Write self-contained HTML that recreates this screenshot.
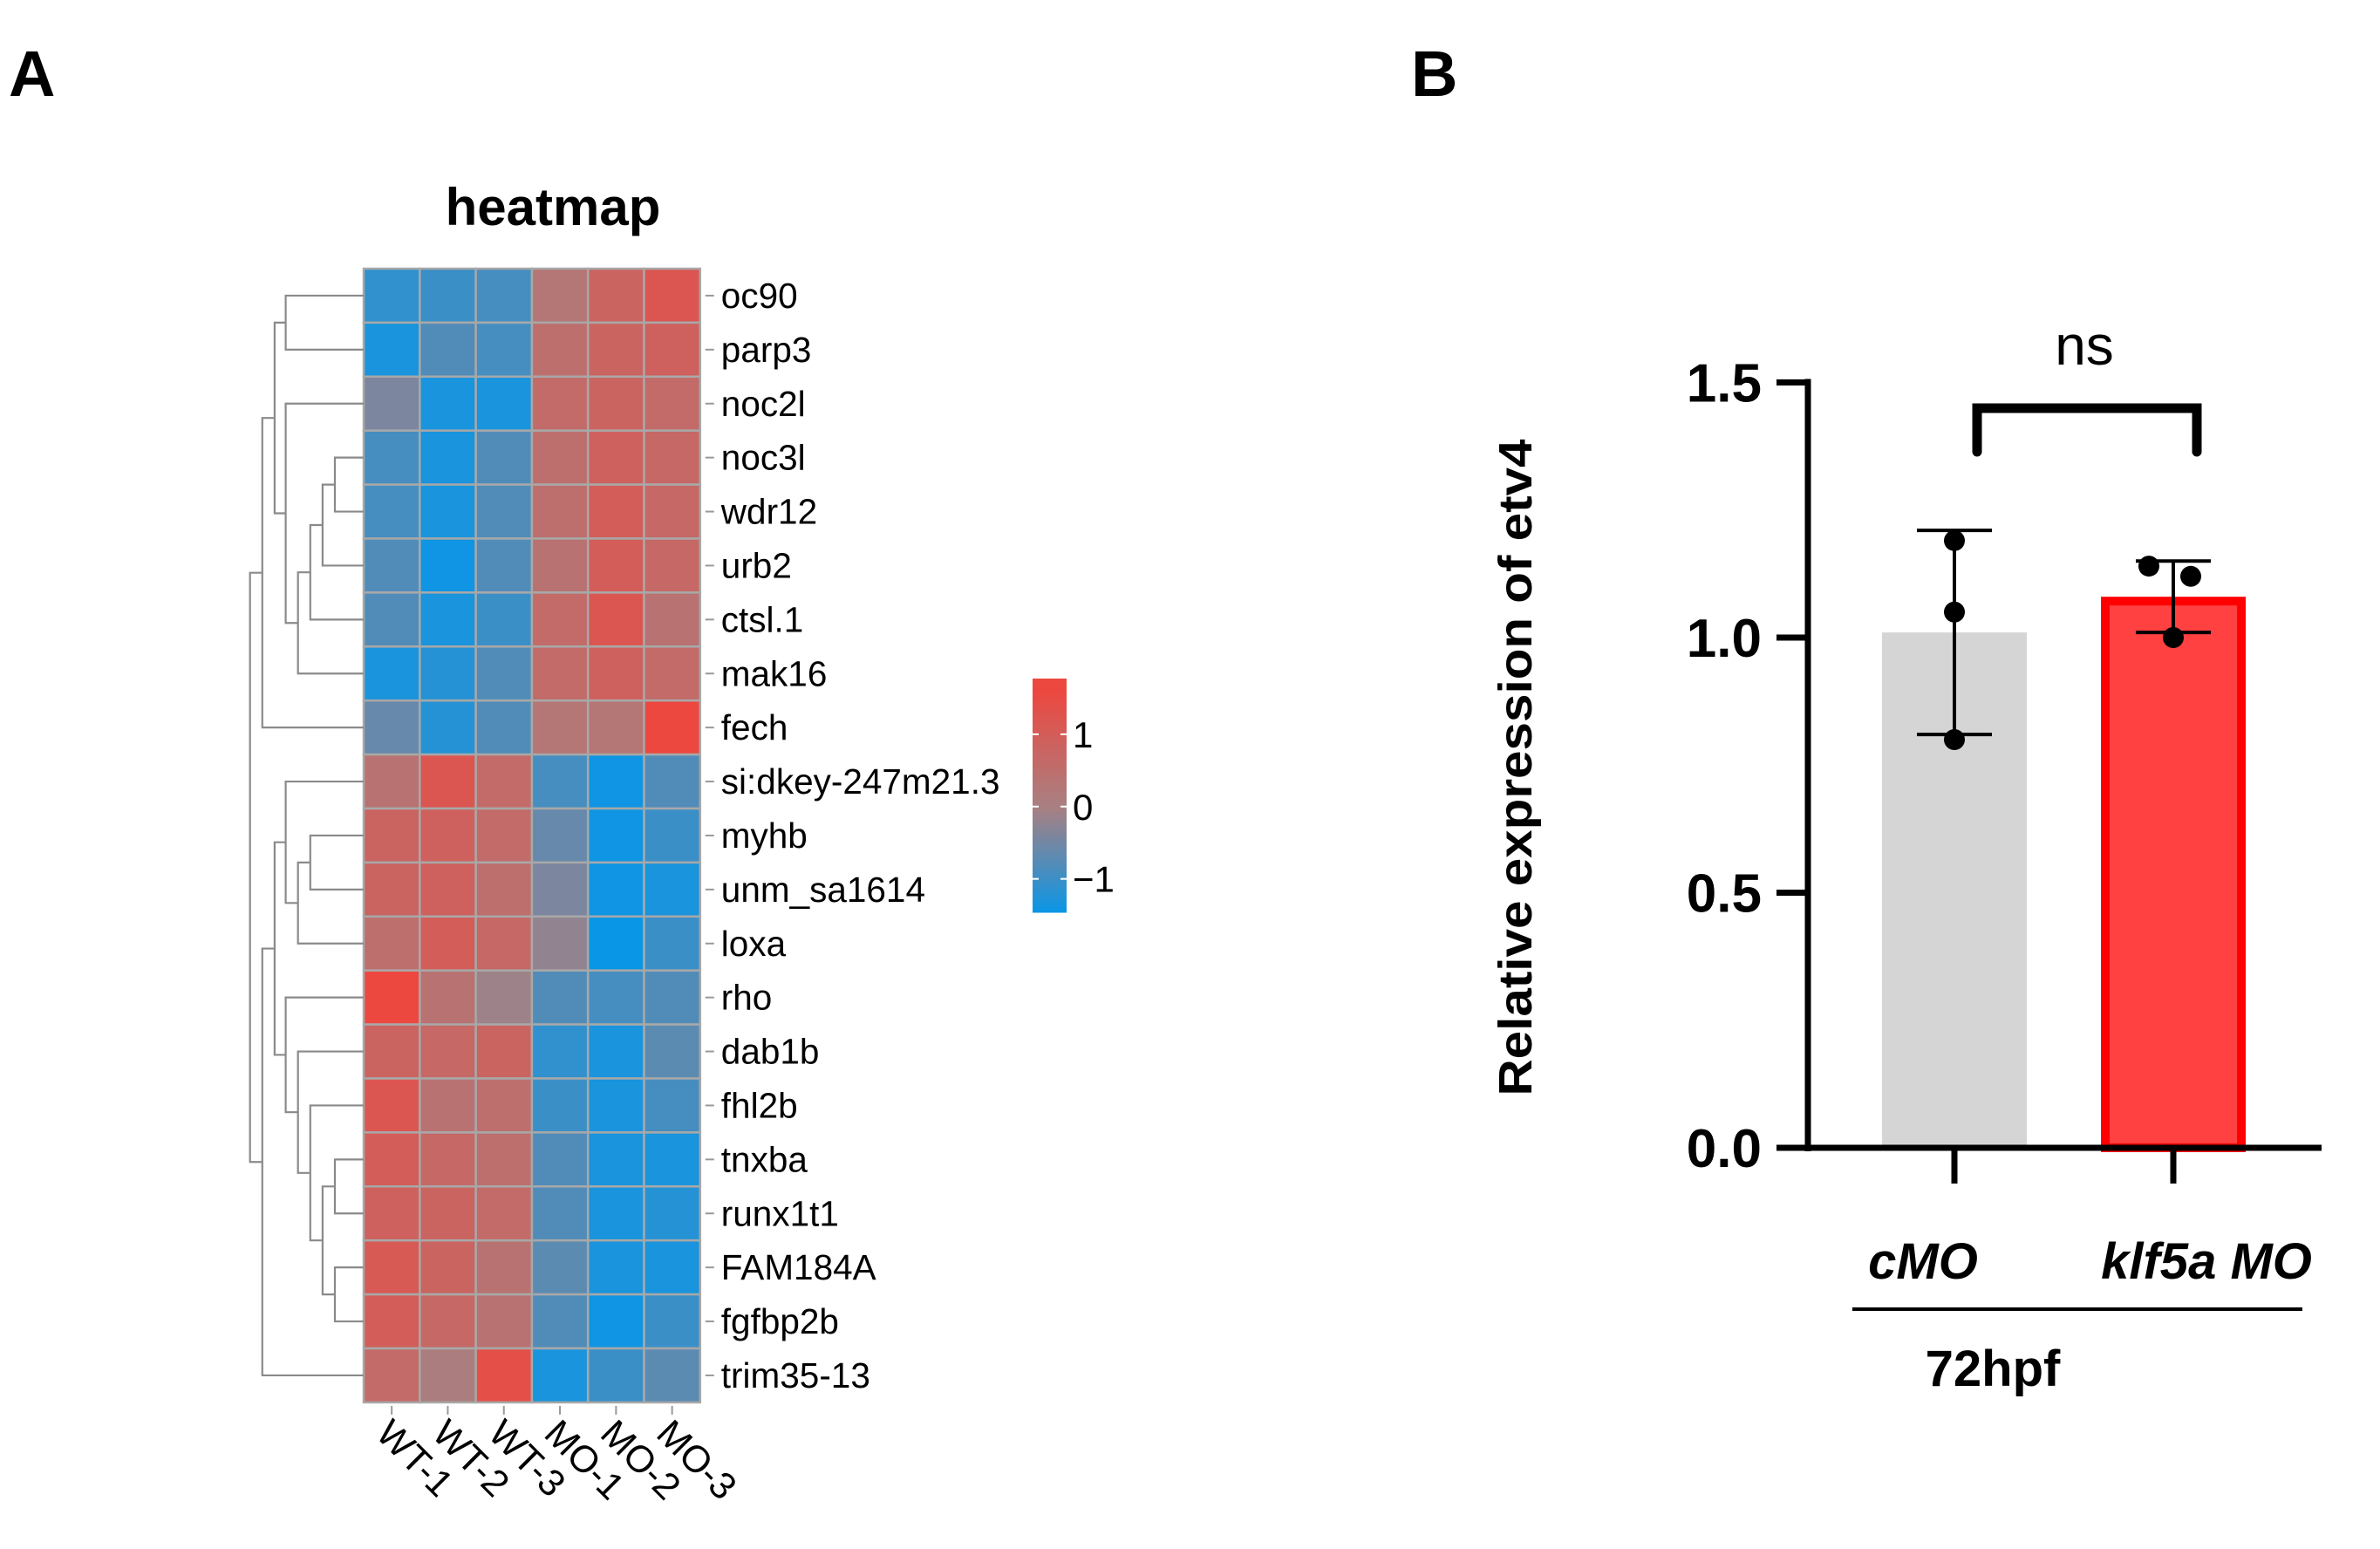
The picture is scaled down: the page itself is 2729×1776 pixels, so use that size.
<!DOCTYPE html>
<html><head><meta charset="utf-8"><style>
html,body{margin:0;padding:0;background:#fff;}
svg{display:block;font-family:"Liberation Sans",Arial,sans-serif;}
</style></head><body>
<svg id="fig" width="2729" height="1776" viewBox="0 0 2729 1776" xmlns="http://www.w3.org/2000/svg">
<text x="10" y="110" font-size="74" font-weight="bold">A</text>
<text x="1618" y="110" font-size="74" font-weight="bold">B</text>
<text x="634" y="258" font-size="60" font-weight="bold" text-anchor="middle">heatmap</text>
<g id="heat"></g>
<g id="dendro"></g>
<g id="cbar"></g>
<g id="bar"></g>
</svg>
<script>
const NS="http://www.w3.org/2000/svg";
const genes=["oc90","parp3","noc2l","noc3l","wdr12","urb2","ctsl.1","mak16","fech","si:dkey-247m21.3","myhb","unm_sa1614","loxa","rho","dab1b","fhl2b","tnxba","runx1t1","FAM184A","fgfbp2b","trim35-13"];
const samples=["WT-1","WT-2","WT-3","MO-1","MO-2","MO-3"];
const zvals=[
[-1.1,-1.0,-0.9,0.3,0.8,1.2],
[-1.3,-0.8,-0.9,0.5,0.8,0.9],
[-0.4,-1.3,-1.3,0.6,0.8,0.6],
[-0.9,-1.3,-0.8,0.5,0.9,0.7],
[-0.9,-1.3,-0.8,0.5,1.0,0.7],
[-0.8,-1.4,-0.8,0.4,1.0,0.7],
[-0.8,-1.3,-1.0,0.6,1.2,0.4],
[-1.3,-1.2,-0.8,0.6,0.9,0.6],
[-0.6,-1.2,-0.8,0.3,0.3,1.6],
[0.4,1.2,0.6,-0.9,-1.4,-0.8],
[0.8,0.9,0.6,-0.6,-1.4,-1.0],
[0.8,0.9,0.5,-0.4,-1.4,-1.3],
[0.5,1.0,0.7,-0.2,-1.5,-1.0],
[1.6,0.4,-0.1,-0.8,-0.9,-0.8],
[0.8,0.7,0.8,-1.1,-1.3,-0.7],
[1.2,0.4,0.5,-1.0,-1.3,-0.9],
[1.0,0.7,0.5,-0.8,-1.3,-1.3],
[0.9,0.8,0.6,-0.8,-1.3,-1.2],
[1.1,0.8,0.4,-0.7,-1.3,-1.3],
[1.0,0.7,0.4,-0.8,-1.4,-1.0],
[0.6,0.1,1.4,-1.3,-1.0,-0.7]];
const cbTicks=[1,0,-1];
// dendrogram merges: [childA, childB, heightLevel]; leaves 0..20, internal nodes 21+
const merges=[[3,4,190],[0,1,110],[21,5,170],[23,6,150],[24,7,130],[2,25,110],[22,26,92],[27,8,72],
[10,11,150],[29,12,130],[9,30,110],[16,17,190],[18,19,190],[32,33,170],[15,34,150],[14,35,130],[13,36,110],[31,37,92],[38,20,72],[28,39,52]];
const cats=["cMO","klf5a MO"];
const means=[1.01,1.08];
const errLo=[0.81,1.01];
const errHi=[1.21,1.15];
const pts=[[1.19,1.05,0.80],[1.14,1.12,1.00]];
const yTicks=[0,0.5,1.0,1.5];

function el(tag,attrs,parent){const e=document.createElementNS(NS,tag);for(const k in attrs)e.setAttribute(k,attrs[k]);parent.appendChild(e);return e;}
const H={x0:417,y0:308,cw:64.3,rh:61.9};
const cx=j=>H.x0+j*H.cw, ry=i=>H.y0+i*H.rh;
function lerp(a,b,t){return a.map((v,i)=>Math.round(v+(b[i]-v)*t));}
function color(z){const blue=[10,150,230],mid=[168,128,130],red=[236,72,64];
 if(z<0){const t=Math.min(1,-z/1.45);return "rgb("+lerp(mid,blue,t)+")";}
 const t=Math.min(1,z/1.6);return "rgb("+lerp(mid,red,t)+")";}
const hg=document.getElementById("heat");
zvals.forEach((row,i)=>row.forEach((v,j)=>{
 const r=el("rect",{x:cx(j),y:ry(i),width:H.cw,height:H.rh,fill:color(v),stroke:"#a8a8a8","stroke-width":2.5},hg);
 
 
}));
genes.forEach((g,i)=>{
 el("line",{x1:cx(6)+6,x2:cx(6)+16,y1:ry(i)+H.rh/2,y2:ry(i)+H.rh/2,stroke:"#999","stroke-width":2},hg);
 const t=el("text",{x:cx(6)+24,y:ry(i)+H.rh/2+14,"font-size":40.5},hg);t.textContent=g;
 
 
});
samples.forEach((s,j)=>{
 const x=cx(j)+H.cw/2;
 el("line",{x1:x,x2:x,y1:ry(21)+4,y2:ry(21)+14,stroke:"#999","stroke-width":2},hg);
 const t=el("text",{x:0,y:0,"font-size":43,transform:`translate(${x-20},${1646}) rotate(45)`},hg);t.textContent=s;
 
 
});
const dg=document.getElementById("dendro");
const nodeY=[],nodeX=[];
genes.forEach((g,i)=>{nodeY[i]=ry(i)+H.rh/2;nodeX[i]=H.x0;});
merges.forEach((m,k)=>{
 const id=21+k,[a,b,h]=m;const x=250+h/1.418;
 const ya=nodeY[a],yb=nodeY[b];
 el("path",{d:`M${nodeX[a]},${ya}H${x}V${yb}H${nodeX[b]}`,fill:"none",stroke:"#8a8a8a","stroke-width":2.2},dg);
 nodeY[id]=(ya+yb)/2;nodeX[id]=x;
});
const cb=document.getElementById("cbar");
const CB={x:1184,w:39,top:778,bot:1045,zTop:1.77,zBot:-1.45};
const cbY=z=>CB.top+(CB.zTop-z)/(CB.zTop-CB.zBot)*(CB.bot-CB.top);
for(let y=CB.top;y<CB.bot;y+=2){const z=CB.zTop-(y-CB.top)/(CB.bot-CB.top)*(CB.zTop-CB.zBot);el("rect",{x:CB.x,y:y,width:CB.w,height:2.5,fill:color(z)},cb);}
cbTicks.forEach(v=>{const y=cbY(v);
 el("line",{x1:CB.x,x2:CB.x+7,y1:y,y2:y,stroke:"#fff","stroke-width":2},cb);
 el("line",{x1:CB.x+CB.w-7,x2:CB.x+CB.w,y1:y,y2:y,stroke:"#fff","stroke-width":2},cb);
 const t=el("text",{x:CB.x+46,y:y+15,"font-size":42},cb);t.textContent=v<0?"\u22121":String(v);
 
 
});
const bg=document.getElementById("bar");
const B={ax:2073,y0:1316,ppu:585,xs:[2241,2492],bw:166};
const yS=v=>B.y0-v*B.ppu;
means.forEach((m,i)=>{
 const x=B.xs[i]-B.bw/2;
 const r= i===0? el("rect",{x:x,y:yS(m),width:B.bw,height:yS(0)-yS(m),fill:"#d5d5d5"},bg)
  : el("rect",{x:x+5,y:yS(m)+5,width:B.bw-10,height:yS(0)-yS(m)-5,fill:"#ff4141",stroke:"#ff0000","stroke-width":10},bg);
 
 
 el("line",{x1:B.xs[i],x2:B.xs[i],y1:yS(errLo[i]),y2:yS(errHi[i]),stroke:"#000","stroke-width":4},bg);
 [errLo[i],errHi[i]].forEach(v=>el("line",{x1:B.xs[i]-43,x2:B.xs[i]+43,y1:yS(v),y2:yS(v),stroke:"#000","stroke-width":4},bg));
 const offs= i===0?[0,0,0]:[-28,20,0];
 pts[i].forEach((p,k)=>{const c=el("circle",{cx:B.xs[i]+offs[k],cy:yS(p),r:12,fill:"#000"},bg);
  
  });
 el("line",{x1:B.xs[i],x2:B.xs[i],y1:B.y0,y2:1357,stroke:"#000","stroke-width":7},bg);
});
el("line",{x1:B.ax,x2:B.ax,y1:yS(1.5)-4,y2:B.y0+4,stroke:"#000","stroke-width":7},bg);
el("line",{x1:2037,x2:2662,y1:B.y0,y2:B.y0,stroke:"#000","stroke-width":7},bg);
yTicks.forEach(v=>{const y=yS(v);
 el("line",{x1:2037,x2:B.ax,y1:y,y2:y,stroke:"#000","stroke-width":7},bg);
 const t=el("text",{x:2020,y:y+22,"font-size":62,"font-weight":"bold","text-anchor":"end"},bg);t.textContent=v.toFixed(1);
 
 
});
el("path",{d:"M2267,518V468H2519V518",fill:"none",stroke:"#000","stroke-width":11,"stroke-linecap":"round"},bg);
let t=el("text",{x:2390,y:418,"font-size":64,"text-anchor":"middle"},bg);t.textContent="ns";

t=el("text",{x:0,y:0,"font-size":54,"font-weight":"bold","text-anchor":"middle",textLength:753,lengthAdjust:"spacingAndGlyphs",transform:"translate(1756,880) rotate(-90)"},bg);t.textContent="Relative expression of etv4";

t=el("text",{x:2205,y:1466,"font-size":58,"font-weight":"bold","font-style":"italic","text-anchor":"middle"},bg);t.textContent=cats[0];

t=el("text",{x:2530,y:1466,"font-size":58,"font-weight":"bold","font-style":"italic","text-anchor":"middle"},bg);t.textContent=cats[1];

el("line",{x1:2124,x2:2640,y1:1501,y2:1501,stroke:"#000","stroke-width":4},bg);
t=el("text",{x:2285,y:1589,"font-size":58,"font-weight":"bold","text-anchor":"middle"},bg);t.textContent="72hpf";

</script>
</body></html>
